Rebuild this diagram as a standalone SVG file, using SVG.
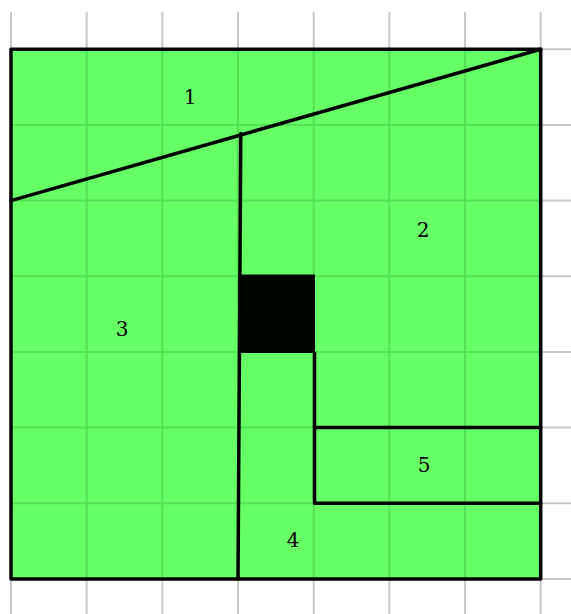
<svg xmlns="http://www.w3.org/2000/svg" width="571" height="614" viewBox="0 0 571 614">
<style>
.g{stroke:#c8c8c8;stroke-width:2;fill:none}
.gi{stroke:#55e055;stroke-width:2;fill:none}
.e{stroke:#000;stroke-width:3.5;fill:none;stroke-linecap:round;stroke-linejoin:round}
.t{font-family:"DejaVu Serif","Liberation Serif",serif;font-size:20px;fill:#000;text-anchor:middle}
</style>
<rect width="571" height="614" fill="#fff"/>
<g id="grid-outer" class="g">
<path d="M11 12V614M86.7 12V614M162.3 12V614M238 12V614M313.7 12V614M389.3 12V614M465 12V614M540.7 12V614"/>
<path d="M11 49.3H571M11 125H571M11 200.6H571M11 276.3H571M11 352H571M11 427.6H571M11 503.3H571M11 579H571"/>
</g>
<g id="region">
<rect x="11" y="49.3" width="529.7" height="529.7" fill="#66ff66"/>
<g class="gi">
<path d="M86.7 49.3V579M162.3 49.3V579M238 49.3V579M313.7 49.3V579M389.3 49.3V579M465 49.3V579"/>
<path d="M11 125H540.7M11 200.6H540.7M11 276.3H540.7M11 352H540.7M11 427.6H540.7M11 503.3H540.7"/>
</g>
</g>
<g id="block"><rect x="238" y="274.5" width="77" height="78.5" fill="#000500"/></g>
<g id="edges" class="e">
<rect x="11" y="49.3" width="529.7" height="529.7"/>
<path d="M11 200.6L540.7 49.3"/>
<path d="M240.8 133.5L238 579"/>
<path d="M314.5 353V503.3H540.7"/>
<path d="M314.5 427.6H540.7"/>
</g>
<g id="labels">
<text class="t" x="190" y="104">1</text>
<text class="t" x="423" y="237">2</text>
<text class="t" x="122" y="336">3</text>
<text class="t" x="293" y="547">4</text>
<text class="t" x="424" y="472">5</text>
</g>
</svg>
